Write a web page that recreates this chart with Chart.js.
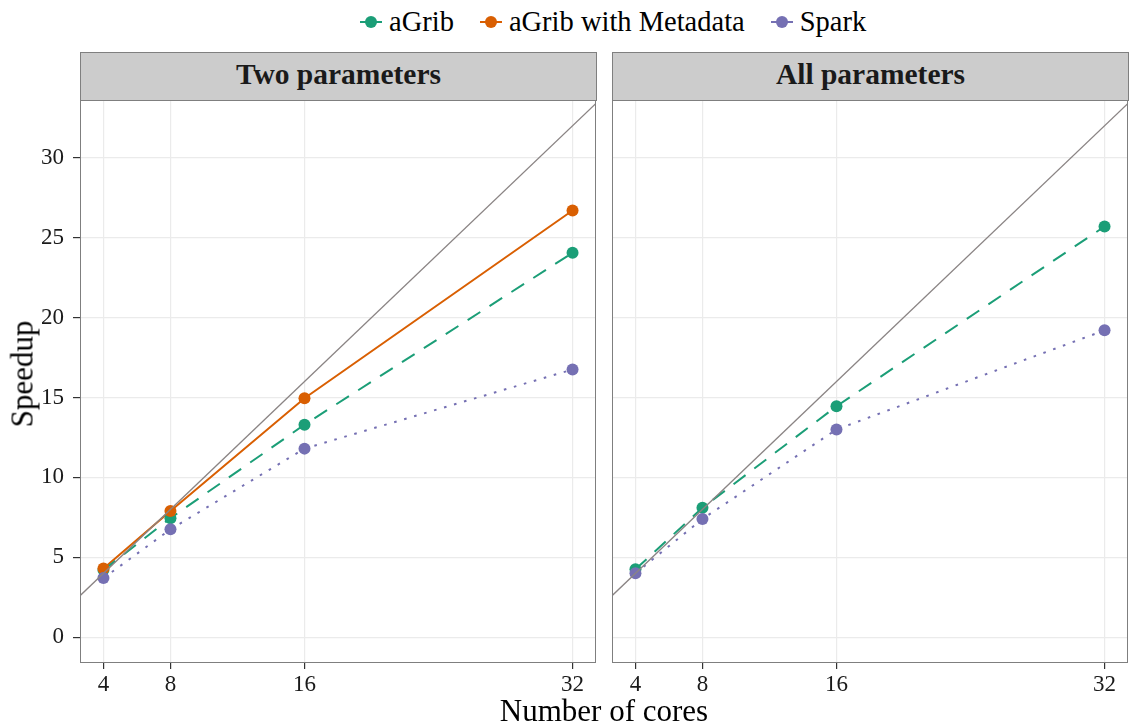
<!DOCTYPE html>
<html><head><meta charset="utf-8">
<script src="https://cdn.jsdelivr.net/npm/chart.js@4"></script>
<style>
html,body{margin:0;padding:0;background:#fff;overflow:hidden;}
body{width:1129px;height:726px;position:relative;font-family:"Liberation Serif",serif;color:#000;}
canvas{position:absolute;}
.strip{position:absolute;top:52px;height:49px;background:#CCCCCC;border:1px solid #7F7F7F;box-sizing:border-box;}
.strip span{position:absolute;left:0;right:0;top:7px;text-align:center;font-weight:bold;font-size:29.5px;line-height:29px;color:#1a1a1a;}
.legend{position:absolute;top:6px;left:360px;display:flex;align-items:center;height:32px;}
.item{display:flex;align-items:center;margin-right:26px;}
.icon{position:relative;width:22px;height:14px;margin-right:7px;}
.icon .ln{position:absolute;left:0;right:0;top:6px;height:2px;}
.icon .dt{position:absolute;left:5px;top:1px;width:12px;height:12px;border-radius:50%;}
.item .tx{font-size:28.5px;line-height:32px;}
.ytitle{position:absolute;left:22px;top:374px;transform:translate(-50%,-50%) rotate(-90deg);font-size:31px;line-height:31px;white-space:nowrap;}
.xtitle{position:absolute;left:604px;top:695px;transform:translateX(-50%);font-size:31px;line-height:31px;white-space:nowrap;}
</style>
</head><body>
<div class="legend" id="legend"></div>
<div class="strip" style="left:80px;width:517px;"><span>Two parameters</span></div>
<div class="strip" style="left:612px;width:517px;"><span>All parameters</span></div>
<canvas id="c1" width="600" height="605" style="left:0;top:96px;"></canvas>
<canvas id="c2" width="527" height="605" style="left:602px;top:96px;"></canvas>
<div class="ytitle">Speedup</div>
<div class="xtitle">Number of cores</div>
<script>
// ---- data ----
const cores = [4, 8, 16, 32];
const xTicks = [4, 8, 16, 32];
const yTicks = [0, 5, 10, 15, 20, 25, 30];
const seriesNames = ["aGrib", "aGrib with Metadata", "Spark"];
const twoParamsAGrib = [4.2, 7.45, 13.3, 24.05];
const twoParamsAGribMeta = [4.3, 7.9, 14.95, 26.7];
const twoParamsSpark = [3.7, 6.75, 11.8, 16.75];
const allParamsAGrib = [4.25, 8.1, 14.45, 25.7];
const allParamsSpark = [4.0, 7.4, 13.0, 19.2];

// ---- styles ----
const colors = {"aGrib": "#1B9E77", "aGrib with Metadata": "#D95F02", "Spark": "#7570B3"};
const dashes = {"aGrib": [15, 11], "aGrib with Metadata": [], "Spark": [2.6, 7.8]};
const xMin = 2.6, xMax = 33.4, yMin = -1.55, yMax = 33.55;

// legend
const lg = document.getElementById('legend');
seriesNames.forEach(n => {
  const it = document.createElement('div'); it.className = 'item';
  it.innerHTML = '<div class="icon"><div class="ln" style="background:' + colors[n] + '"></div><div class="dt" style="background:' + colors[n] + '"></div></div><span class="tx">' + n + '</span>';
  lg.appendChild(it);
});

const borderPlugin = {
  id: 'panelBorder',
  afterDatasetsDraw(chart) {
    const a = chart.chartArea, ctx = chart.ctx;
    ctx.save();
    ctx.strokeStyle = '#7F7F7F'; ctx.lineWidth = 1;
    ctx.strokeRect(Math.round(a.left) + 0.5, Math.round(a.top) - 0.5, Math.round(a.right - a.left) - 1, Math.round(a.bottom - a.top) + 1);
    ctx.restore();
  }
};

function zeroPad(sc) { sc.paddingTop = 0; sc.paddingBottom = 0; sc.paddingLeft = 0; sc.paddingRight = 0; }

function makePanel(id, series, showY) {
  const datasets = [];
  // ideal speedup line y = x
  datasets.push({data: [{x: xMin, y: xMin}, {x: xMax, y: xMax}], borderColor: '#8a8484', borderWidth: 1.4,
    pointRadius: 0, order: 0, showLine: true});
  series.forEach((s, k) => {
    const pts = cores.map((c, i) => ({x: c, y: s.values[i]}));
    datasets.push({data: pts, borderColor: colors[s.name], borderWidth: 2, borderDash: dashes[s.name],
      pointRadius: 0, showLine: true, order: 20 + k});
    datasets.push({data: pts, showLine: false, pointRadius: 6, pointHoverRadius: 6, pointBorderWidth: 0,
      pointBackgroundColor: colors[s.name], borderColor: colors[s.name], order: 10 - (s.name === 'Spark' ? 5 : s.name === 'aGrib with Metadata' ? 3 : 0)});
  });
  return new Chart(document.getElementById(id), {
    type: 'line',
    data: {datasets},
    plugins: [borderPlugin],
    options: {
      responsive: false, animation: false, devicePixelRatio: 1,
      layout: {autoPadding: false, padding: {top: 5, right: showY ? 4 : 1, left: 0, bottom: 0}},
      plugins: {legend: {display: false}, tooltip: {enabled: false}},
      scales: {
        x: {
          type: 'linear', min: xMin, max: xMax,
          afterBuildTicks: sc => { sc.ticks = xTicks.map(v => ({value: v})); },
          afterFit: sc => { sc.height = 39; zeroPad(sc); },
          grid: {color: '#EBEBEB', lineWidth: 1.2, tickLength: 7, tickColor: '#333', tickWidth: 1.2},
          border: {display: false},
          ticks: {font: {family: 'Liberation Serif', size: 23}, color: '#1a1a1a', padding: 2, maxRotation: 0, autoSkip: false}
        },
        y: {
          type: 'linear', min: yMin, max: yMax,
          afterBuildTicks: sc => { sc.ticks = yTicks.map(v => ({value: v})); },
          afterFit: sc => { sc.width = showY ? 80 : 10; zeroPad(sc); },
          grid: {color: '#EBEBEB', lineWidth: 1.2, tickLength: 7, tickColor: '#333', tickWidth: 1.2, drawTicks: showY},
          border: {display: false},
          ticks: {display: showY, font: {family: 'Liberation Serif', size: 23}, color: '#1a1a1a', padding: 9}
        }
      }
    }
  });
}

makePanel('c1', [
  {name: 'aGrib', values: twoParamsAGrib},
  {name: 'aGrib with Metadata', values: twoParamsAGribMeta},
  {name: 'Spark', values: twoParamsSpark}
], true);
makePanel('c2', [
  {name: 'aGrib', values: allParamsAGrib},
  {name: 'Spark', values: allParamsSpark}
], false);
</script>
</body></html>
